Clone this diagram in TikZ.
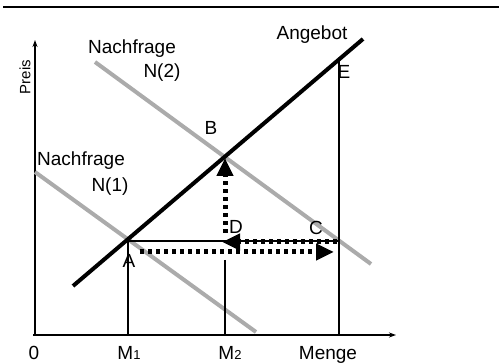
\documentclass[tikz,border=0pt]{standalone}
\usepackage{fontspec}
\setmainfont{Liberation Sans}
\usetikzlibrary{arrows.meta}
\newcommand{\lowidx}[1]{{\fontsize{13}{13}\selectfont #1}}
\begin{document}
\begin{tikzpicture}[x=1pt,y=-1pt,
  lbl/.style={font=\fontsize{19}{21}\selectfont, inner sep=0pt},
  demand/.style={draw=black!33, line width=4pt},
  supply/.style={draw=black, line width=4pt},
  axis/.style={draw=black, line width=1.6pt, -{Stealth[length=7pt,width=5pt]}},
  guide/.style={draw=black, line width=1.3pt},
  dotarrow/.style={draw=black, line width=5pt, dash pattern=on 4pt off 4pt, -{Triangle[length=18pt,width=16pt]}}
]
\useasboundingbox (0,0) rectangle (499,363);
% frame line at top
\coordinate (tl) at (3,7);
\coordinate (tr) at (499,7);
\draw[line width=1.5pt] (tl) -- (tr);
% axes
\coordinate (O) at (35,335);
\coordinate (ytop) at (35,40);
\coordinate (xend) at (396,335);
\coordinate (xstart) at (33,335);
\draw[axis] (O) -- (ytop);
\draw[axis] (xstart) -- (xend);
% demand curves
\coordinate (n1s) at (35,172);
\coordinate (n1e) at (256,332);
\coordinate (n2s) at (95,62);
\coordinate (n2e) at (371,264);
\draw[demand] (n1s) -- (n1e);
\draw[demand] (n2s) -- (n2e);
% supply
\coordinate (ss) at (73,286);
\coordinate (se) at (363,39);
\draw[supply] (ss) -- (se);
% key points
\coordinate (A) at (128,240);
\coordinate (B) at (225,157);
\coordinate (Etop) at (339,60);
\coordinate (M1b) at (128,335);
\coordinate (M2t) at (225,260);
\coordinate (M2b) at (225,335);
\coordinate (Eb) at (339,335);
\coordinate (hA) at (128,241);
\coordinate (hC) at (339,241);
% guide lines
\draw[guide] (A) -- (M1b);
\draw[guide] (M2t) -- (M2b);
\draw[guide] (Etop) -- (Eb);
\draw[guide] (hA) -- (hC);
% dotted arrows
\coordinate (c1) at (337,242);
\coordinate (d1) at (222,242);
\coordinate (a1) at (140,252);
\coordinate (a2) at (334,252);
\coordinate (v1) at (225,233);
\coordinate (v2) at (225,158);
\draw[dotarrow] (c1) -- (d1);
\draw[dotarrow] (a1) -- (a2);
\draw[dotarrow] (v1) -- (v2);
% labels
\node[lbl] (lAng) at (312,35) {Angebot};
\node[lbl] (lN2a) at (132,49) {Nachfrage};
\node[lbl] (lN2b) at (162,73) {N(2)};
\node[lbl] (lE) at (344,72) {E};
\node[lbl, font=\fontsize{15}{17}\selectfont, rotate=90] (lP) at (25,77) {Preis};
\node[lbl] (lB) at (211,128) {B};
\node[lbl] (lN1a) at (81,161) {Nachfrage};
\node[lbl] (lN1b) at (110,187) {N(1)};
\node[lbl] (lD) at (236,227) {D};
\node[lbl] (lC) at (316,228) {C};
\node[lbl] (lA) at (129,261) {A};
\node[lbl, anchor=base] (l0) at (34,360) {0};
\node[lbl, anchor=base] (lM1) at (129,360) {M\lowidx{1}};
\node[lbl, anchor=base] (lM2) at (230,360) {M\lowidx{2}};
\node[lbl, anchor=base] (lMenge) at (328,360) {Menge};
\end{tikzpicture}
\end{document}
